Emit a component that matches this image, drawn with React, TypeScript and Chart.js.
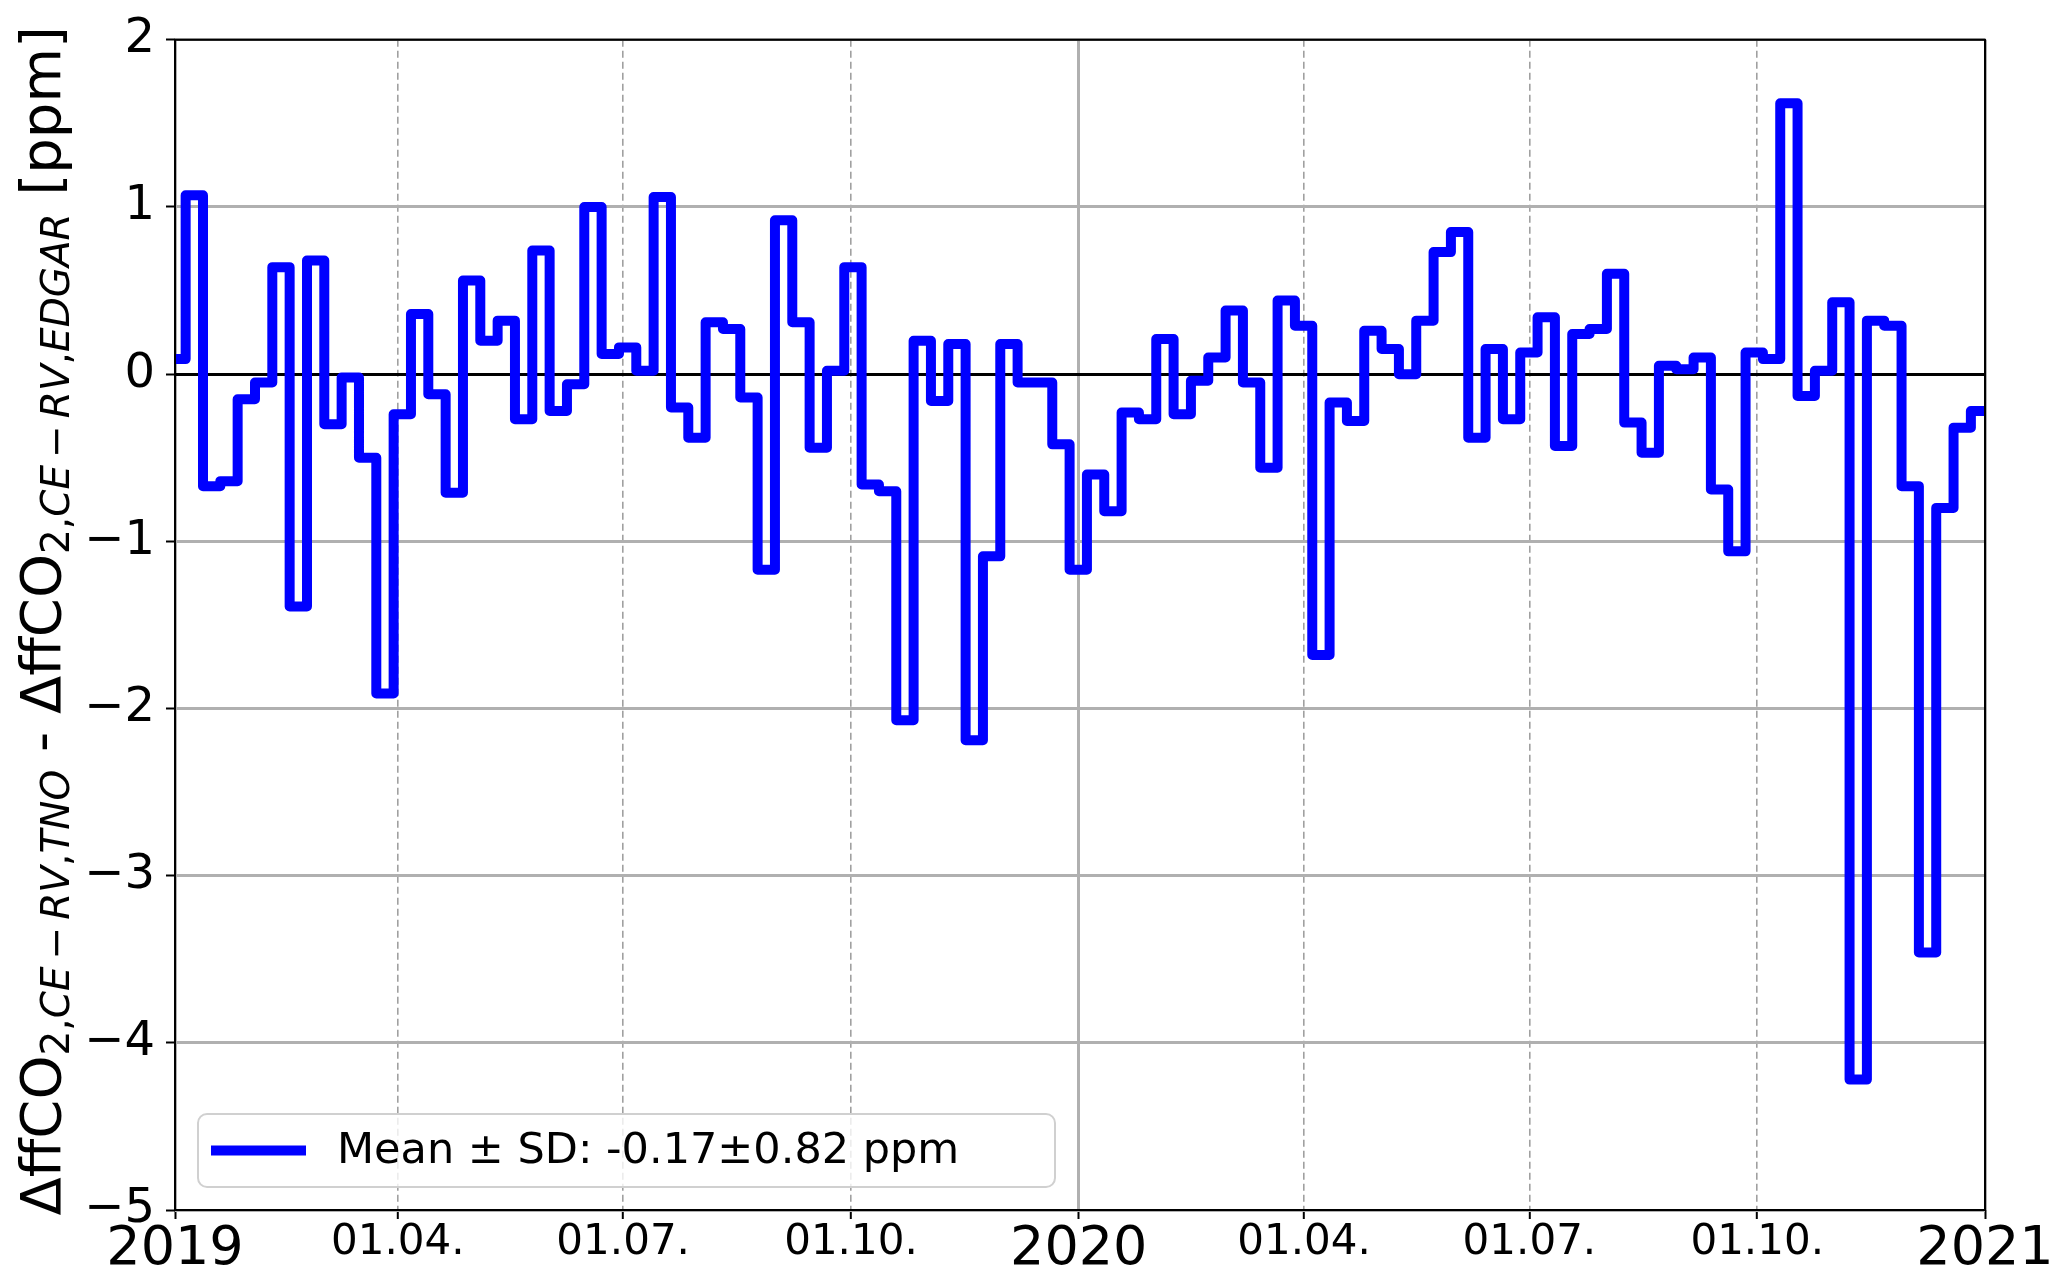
import React, { useEffect, useRef } from "react";
import { Chart, registerables } from "chart.js";

Chart.register(...registerables);

// ---------------- data ----------------
// x axis is expressed in days since 2019-01-01 (2019-01-01 = 0, 2021-01-01 = 731)
const AXIS_END_DAY = 731;
const FIRST_STEP_DAY = 4.3; // first full weekly step starts around 2019-01-05
const STEP_DAYS = 7;

// weekly differences ΔffCO2 (TNO) - ΔffCO2 (EDGAR) [ppm]
const WEEKLY_VALUES = [
  0.09, 1.07, -0.67, -0.64, -0.15, -0.05, 0.64, -1.39, 0.68, -0.30,
  -0.02, -0.50, -1.91, -0.24, 0.36, -0.12, -0.71, 0.56, 0.20, 0.32,
  -0.27, 0.74, -0.22, -0.06, 1.00, 0.12, 0.16, 0.02, 1.06, -0.20,
  -0.38, 0.31, 0.27, -0.14, -1.17, 0.92, 0.31, -0.44, 0.02, 0.64,
  -0.66, -0.70, -2.07, 0.20, -0.16, 0.18, -2.19, -1.09, 0.18, -0.05,
  -0.05, -0.42, -1.17, -0.60, -0.82, -0.23, -0.27, 0.21, -0.24, -0.04,
  0.10, 0.38, -0.05, -0.56, 0.44, 0.29, -1.68, -0.17, -0.28, 0.26,
  0.15, 0.00, 0.32, 0.73, 0.85, -0.38, 0.15, -0.27, 0.13, 0.34,
  -0.43, 0.24, 0.27, 0.60, -0.29, -0.47, 0.05, 0.03, 0.10, -0.69,
  -1.06, 0.13, 0.09, 1.62, -0.13, 0.02, 0.43, -4.22, 0.32, 0.29,
  -0.67, -3.46, -0.80, -0.32, -0.22,
];

const X_TICK_DAYS = [0, 90, 181, 273, 365, 456, 547, 639, 731];
const X_TICK_LABELS = ["2019", "01.04.", "01.07.", "01.10.", "2020", "01.04.", "01.07.", "01.10.", "2021"];
const X_TICK_MAJOR = [true, false, false, false, true, false, false, false, true];

const Y_TICKS = [2, 1, 0, -1, -2, -3, -4, -5];

const SERIES_LABEL = "Mean ± SD: -0.17±0.82 ppm";

const Y_TITLE_PARTS: { text: string; kind: string }[] = [
  { text: "ΔffCO", kind: "main" },
  { text: "2,", kind: "sub" },
  { text: "CE", kind: "subit" },
  { text: "−", kind: "subop" },
  { text: "RV", kind: "subit" },
  { text: ",", kind: "sub" },
  { text: "TNO", kind: "subit" },
  { text: " - ΔffCO", kind: "main" },
  { text: "2,", kind: "sub" },
  { text: "CE", kind: "subit" },
  { text: "−", kind: "subop" },
  { text: "RV", kind: "subit" },
  { text: ",", kind: "sub" },
  { text: "EDGAR", kind: "subit" },
  { text: " [ppm]", kind: "main" },
];

// ---------------- styles ----------------
const FONT = "'DejaVu Sans', 'Liberation Sans', sans-serif";
const W = 2067;
const H = 1285;
const LINE_WIDTH = 10;

const framePlugin = {
  id: "frame",
  afterDatasetsDraw(chart: any) {
    const { ctx, chartArea: a } = chart;
    ctx.save();
    ctx.strokeStyle = "#000";
    ctx.lineWidth = 2;
    ctx.strokeRect(a.left, a.top, a.right - a.left, a.bottom - a.top);
    ctx.restore();
  },
};

const legendPlugin = {
  id: "cornerLegend",
  afterDraw(chart: any) {
    const { ctx, chartArea: a } = chart;
    const ds = chart.data.datasets[0];
    const x = a.left + 23;
    const w = 857;
    const h = 73;
    const y = a.bottom - 23 - h;
    const r = 9;
    ctx.save();
    ctx.beginPath();
    ctx.moveTo(x + r, y);
    ctx.lineTo(x + w - r, y);
    ctx.arcTo(x + w, y, x + w, y + r, r);
    ctx.lineTo(x + w, y + h - r);
    ctx.arcTo(x + w, y + h, x + w - r, y + h, r);
    ctx.lineTo(x + r, y + h);
    ctx.arcTo(x, y + h, x, y + h - r, r);
    ctx.lineTo(x, y + r);
    ctx.arcTo(x, y, x + r, y, r);
    ctx.closePath();
    ctx.fillStyle = "rgba(255,255,255,0.8)";
    ctx.fill();
    ctx.strokeStyle = "#d0d0d0";
    ctx.lineWidth = 2;
    ctx.stroke();
    const cy = y + h / 2;
    ctx.beginPath();
    ctx.moveTo(x + 13, cy);
    ctx.lineTo(x + 108, cy);
    ctx.strokeStyle = ds.borderColor;
    ctx.lineWidth = LINE_WIDTH;
    ctx.lineCap = "butt";
    ctx.stroke();
    ctx.fillStyle = "#000";
    ctx.font = `43px ${FONT}`;
    ctx.textBaseline = "middle";
    ctx.textAlign = "left";
    ctx.fillText(ds.label, x + 139, cy + 1);
    ctx.restore();
  },
};

const MAIN_SIZE = 56;
const SUB_SIZE = 39;

function partFont(kind: string) {
  if (kind === "main") return `${MAIN_SIZE}px ${FONT}`;
  if (kind === "subit") return `italic ${SUB_SIZE}px ${FONT}`;
  return `${SUB_SIZE}px ${FONT}`;
}

const yTitlePlugin = {
  id: "yTitle",
  afterDraw(chart: any) {
    const { ctx, chartArea: a } = chart;
    ctx.save();
    const pads = Y_TITLE_PARTS.map((p) => (p.kind === "subop" ? SUB_SIZE * 0.18 : 0));
    const widths = Y_TITLE_PARTS.map((p, i) => {
      ctx.font = partFont(p.kind);
      return ctx.measureText(p.text).width + 2 * pads[i];
    });
    const total = widths.reduce((s, v) => s + v, 0);
    ctx.translate(60, (a.top + a.bottom) / 2 - 4);
    ctx.rotate(-Math.PI / 2);
    ctx.textBaseline = "alphabetic";
    ctx.textAlign = "left";
    ctx.fillStyle = "#000";
    let u = -total / 2;
    Y_TITLE_PARTS.forEach((p, i) => {
      ctx.font = partFont(p.kind);
      const v = p.kind === "main" ? 0 : 9;
      ctx.fillText(p.text, u + pads[i], v);
      u += widths[i];
    });
    ctx.restore();
  },
};

export default function App() {
  const ref = useRef<HTMLCanvasElement | null>(null);

  useEffect(() => {
    document.body.style.margin = "0";
    const canvas = ref.current;
    if (!canvas) return;

    const points = WEEKLY_VALUES.map((v, i) => ({
      x: i === 0 ? 0 : FIRST_STEP_DAY + STEP_DAYS * (i - 1),
      y: v,
    }));
    points.push({ x: AXIS_END_DAY, y: WEEKLY_VALUES[WEEKLY_VALUES.length - 1] });

    const chart = new Chart(canvas, {
      type: "line",
      data: {
        datasets: [
          {
            label: SERIES_LABEL,
            data: points,
            borderColor: "#0000ff",
            borderWidth: LINE_WIDTH,
            pointRadius: 0,
            stepped: true,
            fill: false,
            borderJoinStyle: "round",
            borderCapStyle: "butt",
          } as any,
        ],
      },
      options: {
        animation: false,
        responsive: false,
        maintainAspectRatio: false,
        devicePixelRatio: 1,
        layout: { padding: { top: 37, right: 82, bottom: 0, left: 0 } },
        plugins: { legend: { display: false }, tooltip: { enabled: false }, title: { display: false } },
        scales: {
          x: {
            type: "linear",
            min: 0,
            max: AXIS_END_DAY,
            afterBuildTicks: (s: any) => {
              s.ticks = X_TICK_DAYS.map((v, i) => ({ value: v, major: X_TICK_MAJOR[i] }));
            },
            afterFit: (s: any) => {
              s.height = H - 1210;
            },
            ticks: {
              autoSkip: false,
              maxRotation: 0,
              minRotation: 0,
              padding: -1,
              color: "#000",
              callback: (_v: any, i: number) => X_TICK_LABELS[i],
              font: (c: any) => ({ family: FONT, size: X_TICK_MAJOR[c.index] ? 54 : 42 }),
            },
            grid: {
              color: (c: any) => (X_TICK_MAJOR[c.index] ? "#b0b0b0" : "#a0a0a0"),
              lineWidth: (c: any) => (X_TICK_MAJOR[c.index] ? 3 : 1.6),
              drawTicks: true,
              tickLength: 9,
              tickColor: "#000",
              tickWidth: 2,
            },
            border: {
              display: false,
              dash: (c: any) => (X_TICK_MAJOR[c.index] ? [] : [7, 4]),
            },
          } as any,
          y: {
            type: "linear",
            min: -5,
            max: 2,
            afterBuildTicks: (s: any) => {
              s.ticks = Y_TICKS.map((v) => ({ value: v }));
            },
            afterFit: (s: any) => {
              s.width = 175;
            },
            ticks: {
              padding: 11,
              color: "#000",
              font: { family: FONT, size: 48 },
              callback: (v: any) => (v < 0 ? "\u2212" + Math.abs(v) : String(v)),
            },
            grid: {
              color: (c: any) => (c.tick && c.tick.value === 0 ? "#000000" : "#b0b0b0"),
              lineWidth: 3,
              drawTicks: true,
              tickLength: 9,
              tickColor: "#000",
              tickWidth: 2,
            },
            border: { display: false },
          } as any,
        },
      },
      plugins: [framePlugin, legendPlugin, yTitlePlugin],
    });

    return () => chart.destroy();
  }, []);

  return (
    <canvas
      ref={ref}
      width={W}
      height={H}
      style={{ display: "block", width: W + "px", height: H + "px", background: "#fff" }}
    />
  );
}
